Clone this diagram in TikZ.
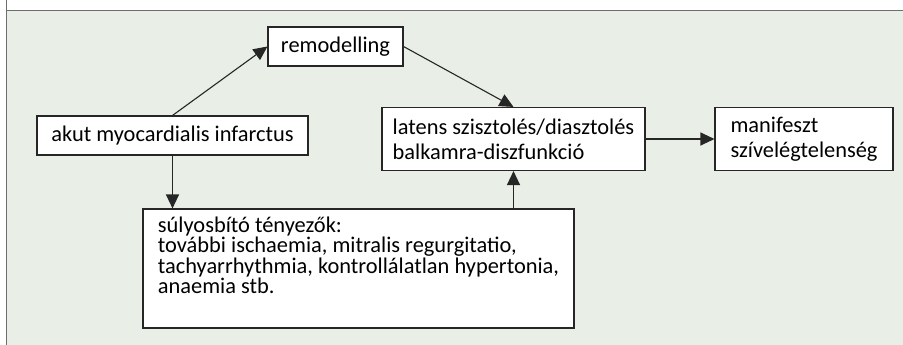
\documentclass[tikz,border=0pt]{standalone}
\usepackage{fontspec}
\setmainfont{Carlito}
\usetikzlibrary{arrows.meta}
\definecolor{panelgreen}{HTML}{E9EFE6}
\definecolor{rulegray}{HTML}{6E6E6E}

\begin{document}
\begin{tikzpicture}[x=1pt,y=-1pt,
  box/.style={draw=black!85, fill=white, line width=1.1pt, inner sep=0pt,
    align=left, font=\fontsize{22.4}{25}\selectfont},
  arr/.style={-{Triangle[length=14pt,width=13pt]}, line width=1.1pt, draw=black!85}]
  \useasboundingbox (0,0) rectangle (903,345);
  % panel
  \fill[panelgreen] (6.5,10.5) rectangle (903,345);
  \draw[rulegray, line width=1.4pt] (6.5,0) -- (6.5,345);
  \draw[rulegray, line width=1.4pt] (6.5,10.5) -- (903,10.5);
  % boxes
  \node[box, minimum width=135pt, minimum height=39pt] (Remod) at (335.5,46.5) {remodelling};
  \node[box, minimum width=271pt, minimum height=39pt] (AMI) at (172.5,135.5) {akut myocardialis infarctus};
  \node[box, minimum width=263pt, minimum height=63pt] (Latens) at (513.5,139)
    {latens szisztolés/diasztolés\\balkamra-diszfunkció};
  \node[box, minimum width=178pt, minimum height=63pt] (Manif) at (804,139)
    {manifeszt\\szívelégtelenség};
  \node[box, minimum width=431pt, minimum height=119pt, text height=84.5pt, text depth=34.5pt,
    font=\fontsize{22.4}{20.5}\selectfont] (Sulyos) at (358.5,268.5)
    {súlyosbító tényezők:\\további ischaemia, mitralis regurgitatio,\\tachyarrhythmia, kontrollálatlan hypertonia,\\anaemia stb.};
  % arrows
  \draw[arr] (AMI.north) -- (Remod.west);
  \draw[arr] (Remod.east) -- (Latens.north);
  \draw[arr] (Latens.east) -- (Manif.west);
  \draw[arr] (AMI.south) -- (AMI.south |- Sulyos.north);
  \draw[arr] (Latens.south |- Sulyos.north) -- (Latens.south);
\end{tikzpicture}
\end{document}
